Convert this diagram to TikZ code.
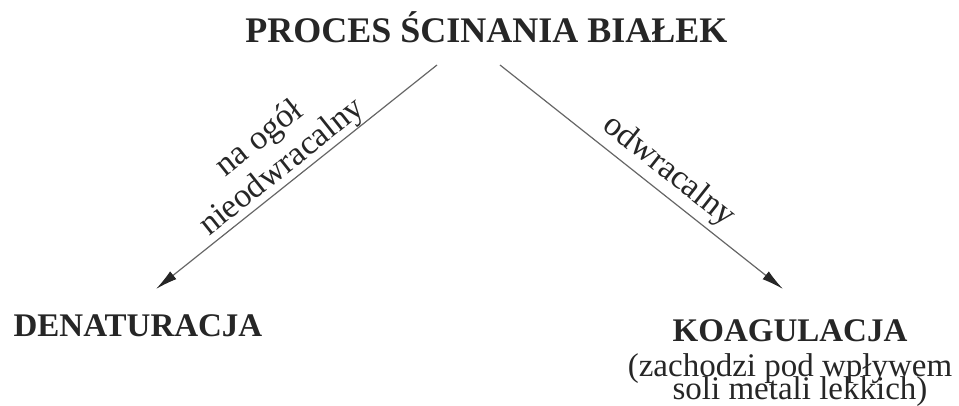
\documentclass[tikz,border=0pt]{standalone}
\usepackage{fontspec}
\setmainfont{Liberation Serif}
\usetikzlibrary{arrows.meta,positioning}

\tikzset{
  heading/.style={font=\bfseries\fontsize{33}{33}\selectfont, text=black!85, inner sep=0pt},
  note/.style={font=\fontsize{33}{24}\selectfont, text=black!85, inner sep=0pt},
  edgelabel/.style={font=\fontsize{34}{36}\selectfont, text=black!85, align=center, sloped},
  arrowline/.style={draw=black!60, line width=1.2pt, -{Latex[length=22pt,width=10pt,color=black!85]}}
}

\begin{document}
\begin{tikzpicture}[x=1pt,y=1pt]
  \useasboundingbox (0,0) rectangle (959,406);
  \node[heading, font=\bfseries\fontsize{36}{36}\selectfont, anchor=base] (proces) at (486.5,363) {PROCES ŚCINANIA BIAŁEK};
  \node[heading, anchor=base] (denat) at (138,69) {DENATURACJA};
  \node[heading, anchor=base] (koag) at (790,64) {KOAGULACJA};
  \node[note, anchor=base] (koagnote1) at (790,29) {(zachodzi pod wpływem};
  \node[note, anchor=base] (koagnote2) at (800,6) {soli metali lekkich)};
  % arrow ends
  \coordinate (lstart) at (437,341);
  \coordinate (lend) at (156,117);
  \coordinate (rstart) at (500,341);
  \coordinate (rend) at (783,117);
  \draw[arrowline] (lstart) -- node[edgelabel, above, pos=0.515, inner sep=0pt] (lbl1) {na ogół\\nieodwracalny} (lend);
  \draw[arrowline] (rstart) -- node[edgelabel, above, pos=0.55, inner sep=5pt] (lbl2) {odwracalny} (rend);
\end{tikzpicture}
\end{document}
